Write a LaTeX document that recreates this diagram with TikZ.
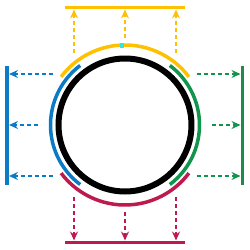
\documentclass[tikz,border=0pt]{standalone}
\usetikzlibrary{arrows.meta}
\definecolor{sunyellow}{HTML}{FFC000}
\definecolor{seablue}{HTML}{0B7BC6}
\definecolor{leafgreen}{HTML}{11944B}
\definecolor{barngreen}{HTML}{1E8A4C}
\definecolor{berryred}{HTML}{BE1A4E}
\definecolor{tealspot}{HTML}{2EE6E0}
\tikzset{
  band/.style={line width=3.5pt},
  wall/.style={line width=3.5pt},
  flux/.style={line width=1.8pt, dash pattern=on 4pt off 3pt, -{Stealth[length=9pt,width=8pt,inset=3pt]}}
}
\begin{document}
\begin{tikzpicture}[x=1pt,y=1pt]
\useasboundingbox (-125,-125) rectangle (125,125);

% Core ring
\draw[line width=6pt] (0,0) circle (66.5);

% Arcs round the ring
\draw[band, sunyellow] (37:80) arc (37:143:80);
\draw[band, seablue] (127:74.5) arc (127:233:74.5);
\draw[band, berryred] (217:80) arc (217:323:80);
\draw[band, leafgreen] (-53:74.5) arc (-53:53:74.5);
\fill[tealspot] (-4.5,77.5) rectangle (-0.5,82.5);

% Walls
\draw[wall, sunyellow] (-60,117.5) -- (60,117.5);
\draw[wall, berryred] (-60,-117.5) -- (60,-117.5);
\draw[wall, seablue] (-118,-59.5) -- (-118,59.5);
\draw[wall, barngreen] (117.5,-59.5) -- (117.5,59.5);

% Flux arrows
\foreach \s/\from in {-51/72, 0/87, 51/72} {
  \draw[flux, sunyellow] (\s,\from) -- (\s,115.5);
  \draw[flux, berryred] (\s,-\from) -- (\s,-115.5);
  \draw[flux, seablue] (-\from,\s) -- (-116,\s);
  \draw[flux, leafgreen] (\from,\s) -- (115.5,\s);
}

\end{tikzpicture}
\end{document}
